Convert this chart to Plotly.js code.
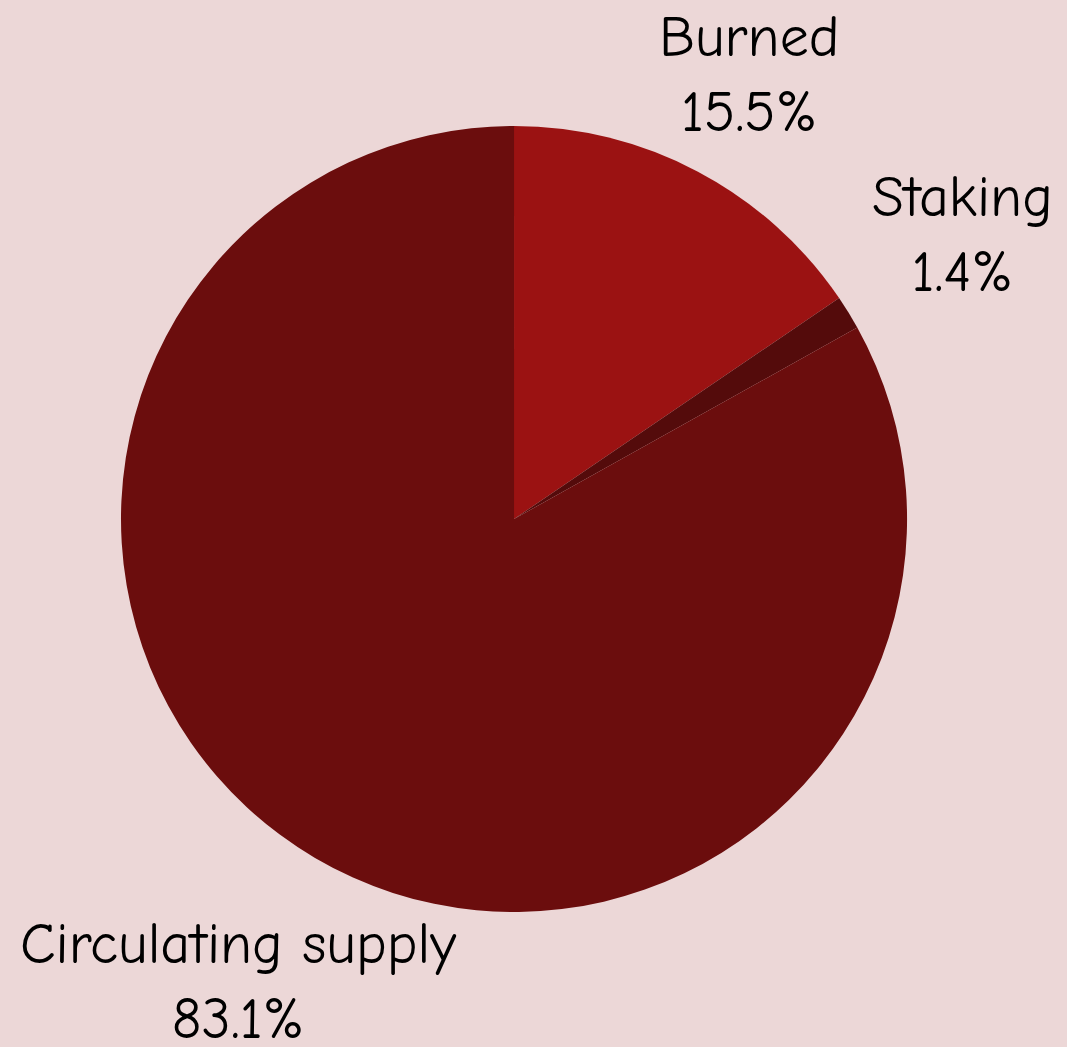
<!DOCTYPE html>
<html>
<head>
<meta charset="utf-8">
<script src="https://cdn.plot.ly/plotly-3.0.1.min.js"></script>
<style>html,body{margin:0;padding:0;background:#ecd7d7;}</style>
</head>
<body>
<div id="chart" style="width:1067px;height:1047px;"></div>
<script>
const labels = ["Burned", "Staking", "Circulating supply"];
const values = [15.5, 1.4, 83.1];
const colors = ["#9b1212", "#540b0b", "#6b0d0d"];

// label placement (paper coordinates) for the outside labels
const labelX = [0.702, 0.9025, 0.223];
const labelY = [0.928, 0.7755, 0.062];

const fontFamily = "'Comic Sans MS', 'Comic Neue', cursive, 'DejaVu Sans'";
const total = values.reduce((a, b) => a + b, 0);

const annotations = labels.map((lab, i) => ({
  xref: "paper", yref: "paper",
  x: labelX[i], y: labelY[i],
  xanchor: "center", yanchor: "middle",
  showarrow: false,
  align: "center",
  text: lab + "<br>" + (values[i] / total * 100).toFixed(1) + "%",
  font: {family: fontFamily, size: 58, color: "#000000"}
}));

Plotly.newPlot("chart", [{
  type: "pie",
  labels: labels,
  values: values,
  sort: false,
  direction: "clockwise",
  rotation: 0,
  domain: {x: [0.1134, 0.8501], y: [0.1289, 0.8797]},
  marker: {colors: colors, line: {width: 0}},
  textinfo: "none",
  automargin: false,
  hoverinfo: "none"
}], {
  width: 1067,
  height: 1047,
  paper_bgcolor: "#ecd7d7",
  plot_bgcolor: "#ecd7d7",
  showlegend: false,
  margin: {l: 0, r: 0, t: 0, b: 0},
  annotations: annotations
}, {displayModeBar: false, staticPlot: true});
</script>
</body>
</html>
